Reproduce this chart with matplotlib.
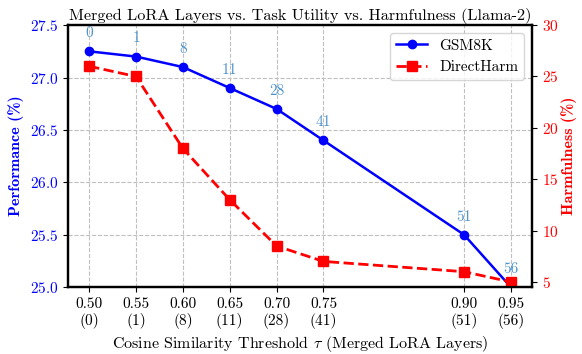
import matplotlib
matplotlib.use("Agg")
import matplotlib.pyplot as plt

plt.rcParams.update({"font.family": "cmr10", "mathtext.fontset": "cm",
                     "axes.formatter.use_mathtext": True, "font.size": 11})

thresholds = [0.50, 0.55, 0.60, 0.65, 0.70, 0.75, 0.90, 0.95]
merged_layers = [0, 1, 8, 11, 28, 41, 51, 56]
gsm8k = [27.25, 27.2, 27.1, 26.9, 26.7, 26.4, 25.5, 25.0]
direct_harm = [26.0, 25.0, 18.0, 13.0, 8.5, 7.0, 6.0, 5.0]

fig, ax1 = plt.subplots(figsize=(5.82, 3.54), dpi=100)
fig.subplots_adjust(left=0.117, right=0.914, top=0.929, bottom=0.189)

l1, = ax1.plot(thresholds, gsm8k, "o-", color="blue", lw=1.8, ms=6, label="GSM8K")
for x, y, n in zip(thresholds, gsm8k, merged_layers):
    ax1.annotate(str(n), (x, y), xytext=(0, 8), textcoords="offset points",
                 ha="center", va="bottom", color="#4d94cc", fontsize=11)
ax1.set_ylim(25.0, 27.5)
ax1.set_ylabel("Performance (%)", color="blue", family="cmb10", fontsize=11.5)
ax1.tick_params(axis="y", labelcolor="blue")
ax1.set_xticks(thresholds)
ax1.set_xticklabels([f"{t:.2f}\n({m})" for t, m in zip(thresholds, merged_layers)])
ax1.set_xlabel(r"Cosine Similarity Threshold $\tau$ (Merged LoRA Layers)",
               fontsize=11.5)
ax1.grid(True, linestyle="--", color="0.75", lw=0.8)

ax2 = ax1.twinx()
l2, = ax2.plot(thresholds, direct_harm, "s--", color="red", lw=2, ms=6.5,
               label="DirectHarm")
ax2.set_ylim(4.5, 30)
ax2.set_ylabel("Harmfulness (%)", color="red", family="cmb10", fontsize=11.5,
               labelpad=2)
ax2.tick_params(axis="y", labelcolor="red")

for ax in (ax1, ax2):
    for s in ax.spines.values():
        s.set_linewidth(1.6)

ax1.set_title("Merged LoRA Layers vs. Task Utility vs. Harmfulness (Llama-2)",
              fontsize=11.7, pad=4)
ax2.legend([l1, l2], ["GSM8K", "DirectHarm"], loc="upper right")

fig.savefig("out.png")
